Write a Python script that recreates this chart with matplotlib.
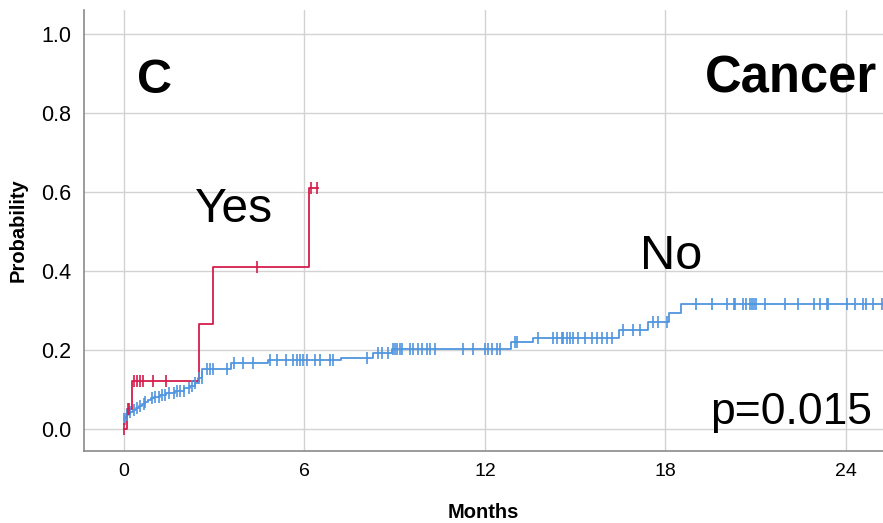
import numpy as np
import matplotlib
matplotlib.use("Agg")
import matplotlib.pyplot as plt

plt.rcParams['font.family'] = ['Liberation Sans', 'DejaVu Sans']

# Cumulative incidence, group "Yes"
yes_times = [0.0, 0.1, 0.25, 2.5, 2.95, 6.15]
yes_values = [0.0, 0.05, 0.12, 0.265, 0.41, 0.61]
yes_end = 6.45
yes_censor = [0.0, 0.12, 0.18, 0.33, 0.44, 0.53, 0.62, 0.95, 1.4, 4.42, 6.2, 6.4]

# Cumulative incidence, group "No"
no_times = [0.0, 0.05, 0.1, 0.15, 0.2, 0.3, 0.4, 0.5, 0.6, 0.7, 0.8, 0.9, 1.0,
            1.2, 1.4, 1.7, 2.0, 2.2, 2.35, 2.45, 2.6, 3.56, 4.8, 7.2, 8.27, 8.9,
            12.86, 13.6, 16.47, 17.43, 18.1, 18.5]
no_values = [0.025, 0.03, 0.034, 0.038, 0.042, 0.047, 0.052, 0.057, 0.062, 0.067,
             0.072, 0.077, 0.081, 0.086, 0.09, 0.097, 0.103, 0.108, 0.115, 0.128,
             0.152, 0.167, 0.173, 0.18, 0.193, 0.203, 0.22, 0.231, 0.25, 0.27,
             0.293, 0.316]
no_end = 25.3
no_censor = [0.0, 0.045, 0.1, 0.21, 0.32, 0.43, 0.54, 0.65, 0.71, 0.93, 1.04, 1.15,
             1.26, 1.37, 1.48, 1.65, 1.76, 1.87, 1.98, 2.15, 2.26, 2.37, 2.48, 2.59,
             2.76, 2.87, 2.97, 3.41, 3.66, 3.97, 4.3, 4.85, 5.08, 5.39, 5.63, 5.74,
             5.85, 5.96, 6.07, 6.35, 6.52, 6.85, 6.94, 8.07, 8.45, 8.57, 8.79, 8.95,
             9.01, 9.07, 9.18, 9.23, 9.51, 9.62, 9.78, 9.9, 10.06, 10.17, 10.34,
             11.28, 11.61, 12.0, 12.11, 12.22, 12.39, 12.5, 13.0, 13.05, 13.77,
             14.27, 14.38, 14.55, 14.6, 14.72, 14.83, 14.94, 15.1, 15.33, 15.55,
             15.71, 15.88, 16.05, 16.21, 16.6, 16.93, 17.15, 17.6, 17.76, 18.06,
             19.02, 19.54, 20.04, 20.28, 20.31, 20.57, 20.68, 20.81, 20.87, 20.94,
             21.01, 21.31, 21.97, 22.42, 22.92, 23.12, 23.36, 23.41, 24.02, 24.3,
             24.58, 24.67, 24.91, 25.19]

x_ticks = [0, 6, 12, 18, 24]
y_ticks = [0.0, 0.2, 0.4, 0.6, 0.8, 1.0]

RED = '#d51c4b'
BLUE = '#5095e0'


def step_value(times, values, t):
    idx = np.searchsorted(times, t, side='right') - 1
    return np.asarray(values)[np.clip(idx, 0, len(values) - 1)]


fig = plt.figure(figsize=(8.83, 5.23), dpi=100)
ax = fig.add_axes([0.0951, 0.1377, 0.9049, 0.8433])

ax.set_xlim(-1.33, 25.23)
ax.set_ylim(-0.056, 1.06)
ax.set_xticks(x_ticks)
ax.set_yticks(y_ticks)
ax.set_xticklabels([str(t) for t in x_ticks], fontsize=14)
ax.set_yticklabels([f"{v:.1f}" for v in y_ticks], fontsize=15.5)
ax.tick_params(axis='y', length=0, pad=9)
ax.tick_params(axis='x', length=0, pad=9)
ax.grid(True, color='#d2d2d2', linewidth=1.0)
ax.set_axisbelow(True)
for side in ('top', 'right'):
    ax.spines[side].set_visible(False)
for side in ('left', 'bottom'):
    ax.spines[side].set_color('#8a8a8a')
    ax.spines[side].set_linewidth(1.2)

for times, values, end, censor, color in (
        (no_times, no_values, no_end, no_censor, BLUE),
        (yes_times, yes_values, yes_end, yes_censor, RED)):
    xs = list(times) + [end]
    ys = list(values) + [values[-1]]
    ax.step(xs, ys, where='post', color=color, linewidth=1.3, zorder=3)
    cy = step_value(times, values, censor)
    ax.plot(censor, cy, linestyle='none', marker='|', markersize=8,
            markeredgewidth=1.2, color=color, zorder=4)

ax.set_xlabel('Months', fontsize=14.5, fontweight='bold', labelpad=16)
ax.set_ylabel('Probability', fontsize=14.5, fontweight='bold', labelpad=10)

ax.text(1.03, 0.851, 'C', fontsize=35, fontweight='bold', ha='center', va='baseline')
ax.text(25.03, 0.851, 'Cancer', fontsize=36.5, fontweight='bold', ha='right', va='baseline')
ax.text(2.36, 0.524, 'Yes', fontsize=34.5, ha='left', va='baseline')
ax.text(17.15, 0.404, 'No', fontsize=35, ha='left', va='baseline')
ax.text(19.48, 0.012, 'p=0.015', fontsize=32, ha='left', va='baseline')

fig.savefig('out.png', dpi=100)
